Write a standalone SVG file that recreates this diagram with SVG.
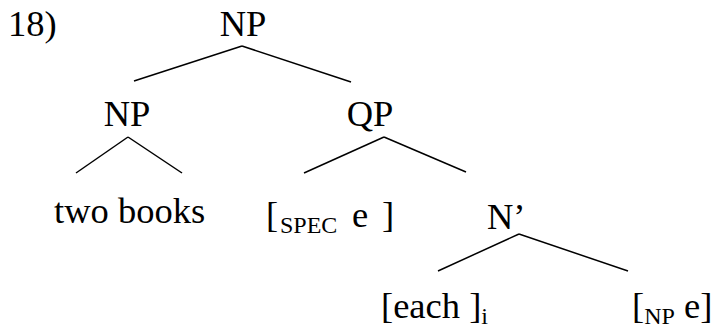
<svg xmlns="http://www.w3.org/2000/svg" width="718" height="328" viewBox="0 0 718 328">
<style>
.t{font-family:'Liberation Serif','Times New Roman',serif;font-size:36.5px;fill:#000}
.sub{font-size:24px}
.c{text-anchor:middle}
line{stroke:#000;stroke-width:1.5}
</style>
<rect width="718" height="328" fill="#fff"/>
<g class="t">
<text x="8" y="36">18)</text>
<g id="np-top"><text class="c" x="243" y="36">NP</text></g>
<g id="np"><text class="c" x="127" y="126">NP</text></g>
<g id="qp"><text class="c" x="370" y="126">QP</text></g>
<g id="two-books"><text x="54" y="223">two books</text></g>
<g id="spec"><text x="266" y="227">[<tspan class="sub" x="280" dy="6">SPEC</tspan><tspan x="352" dy="-6">e</tspan><tspan x="382">]</tspan></text></g>
<g id="nbar"><text x="487" y="229">N’</text></g>
<g id="each"><text x="381" y="318">[each ]<tspan class="sub" dy="6">i</tspan></text></g>
<g id="np-e"><text x="632" y="318">[<tspan class="sub" dy="6">NP</tspan><tspan dy="-6"> e]</tspan></text></g>
</g>
<g id="connectors">
<line x1="242" y1="46" x2="134" y2="81"/>
<line x1="242" y1="46" x2="351" y2="82"/>
<line x1="128" y1="137" x2="76" y2="173"/>
<line x1="128" y1="137" x2="182" y2="173"/>
<line x1="384" y1="137" x2="304" y2="173"/>
<line x1="384" y1="137" x2="466" y2="172"/>
<line x1="519" y1="234" x2="438" y2="271"/>
<line x1="519" y1="234" x2="628" y2="271"/>
</g>
</svg>
